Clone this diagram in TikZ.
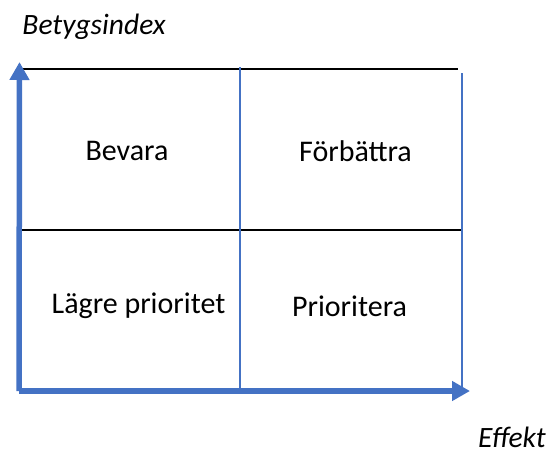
\documentclass[tikz,border=0pt]{standalone}
\usepackage{fontspec}
\setmainfont{Carlito}
\usepackage{xcolor}
\usetikzlibrary{arrows.meta}
\definecolor{officeblue}{HTML}{4472C4}
\tikzset{
	axis/.style={officeblue, line width=5.5pt, -{Triangle[length=18pt, width=19pt]}},
	gridline/.style={officeblue, line width=1.8pt},
	sepline/.style={black, line width=1.6pt},
	cell/.style={font=\fontsize{30}{34}\selectfont},
	axislabel/.style={inner sep=0pt, font=\fontsize{29.5}{34}\selectfont\itshape}
}

\begin{document}
\begin{tikzpicture}[x=1pt, y=-1pt]
			\useasboundingbox (0,0) rectangle (552,453);
			% grid
			\draw [sepline] (20,69) -- (458,69);
			\draw [sepline] (20,230) -- (463,230);
			\draw [gridline] (240,67) -- (240,391);
			\draw [gridline] (461.8,73) -- (461.8,391);
			% axes
			\coordinate (origin) at (19,391);
			\coordinate (ytip) at (19.5,62);
			\coordinate (xtip) at (470,391);
			\draw [axis] (origin) -- (ytip);
			\draw [axis] (origin) -- (xtip);
			% labels
			\node[axislabel] (betyg) at (94,27) {Betygsindex};
			\node[axislabel] (effekt) at (512,437) {Effekt};
			\node[cell] (bevara) at (127,151) {Bevara};
			\node[cell] (forbattra) at (355.5,151) {Förbättra};
			\node[cell] (lagre) at (138.5,306) {Lägre prioritet};
			\node[cell] (prioritera) at (349.5,306) {Prioritera};
		\end{tikzpicture}
\end{document}
